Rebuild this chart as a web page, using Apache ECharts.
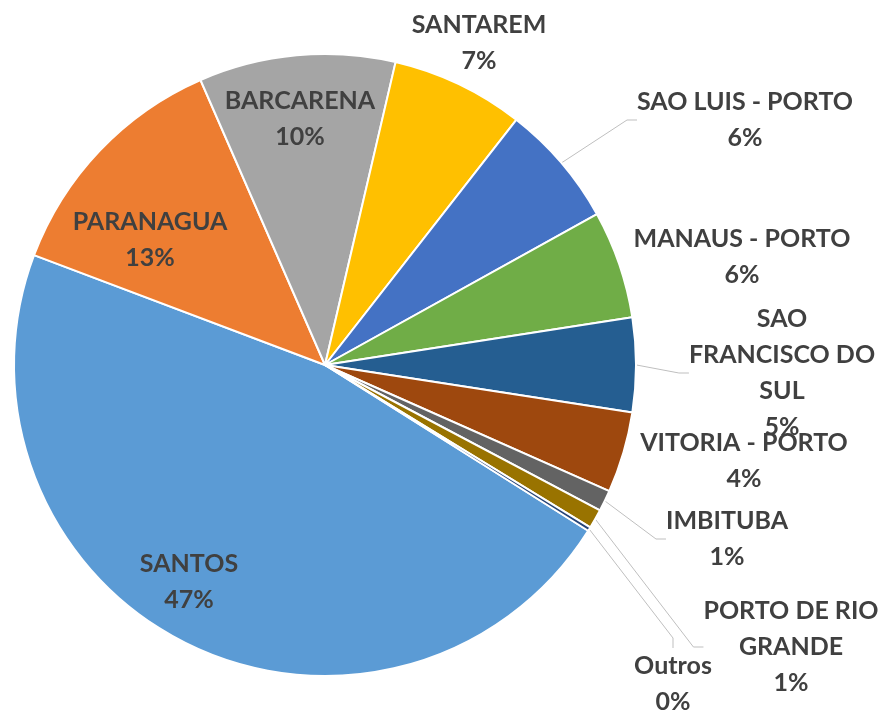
<!DOCTYPE html>
<html>
<head>
<meta charset="utf-8">
<script src="https://cdn.jsdelivr.net/npm/echarts@6/dist/echarts.min.js"></script>
<style>
  html, body { margin: 0; padding: 0; background: #fff; }
  #chart { width: 883px; height: 710px; }
</style>
</head>
<body>
<div id="chart"></div>
<script>
const portNames = ['SANTOS', 'PARANAGUA', 'BARCARENA', 'SANTAREM', 'SAO LUIS - PORTO', 'MANAUS - PORTO',
  'SAO FRANCISCO DO SUL', 'VITORIA - PORTO', 'IMBITUBA', 'PORTO DE RIO GRANDE', 'Outros']
const portShares = [46.8, 12.7, 10.2, 6.9, 6.4, 5.6, 4.9, 4.2, 1.1, 1.0, 0.2]
// names as Excel wrapped them
const labelText = ['SANTOS', 'PARANAGUA', 'BARCARENA', 'SANTAREM', 'SAO LUIS - PORTO', 'MANAUS - PORTO',
  'SAO\nFRANCISCO DO\nSUL', 'VITORIA - PORTO', 'IMBITUBA', 'PORTO DE RIO\nGRANDE', 'Outros']

const sliceColors = ['#5B9BD5', '#ED7D31', '#A5A5A5', '#FFC000', '#4472C4', '#70AD47',
  '#255E91', '#9E480E', '#636363', '#997300', '#264478']
// label centres (layout only)
const labelSpots = [[189, 582], [150, 240], [300, 119], [479, 43], [745, 120], [742, 257],
  [782, 373], [744, 461], [727, 539], [791, 647], [673, 684]]
const insideLabels = [0, 1, 2]
const noLine = [3, 5, 7]

const chart = echarts.init(document.getElementById('chart'))

chart.setOption({
  animation: false,
  series: [{
    type: 'pie',
    center: [325, 365],
    radius: 311,
    startAngle: 327.8,
    clockwise: true,
    avoidLabelOverlap: false,
    emphasis: { disabled: true },
    itemStyle: {
      borderColor: '#fff',
      borderWidth: 2
    },
    label: {
      show: true,
      position: 'outside',
      formatter: p => labelText[p.dataIndex] + '\n' + Math.round(p.percent) + '%',
      fontFamily: 'Lato',
      fontWeight: 'bold',
      fontSize: 25,
      lineHeight: 36,
      color: '#404040',
      align: 'center'
    },
    labelLine: {
      show: true,
      length: 20,
      length2: 10,
      lineStyle: { color: '#BFBFBF', width: 1 }
    },
    labelLayout: p => ({
      x: labelSpots[p.dataIndex][0],
      y: labelSpots[p.dataIndex][1],
      align: 'center',
      verticalAlign: 'middle'
    }),
    data: portNames.map((name, i) => ({
      name: name,
      value: portShares[i],
      itemStyle: { color: sliceColors[i] },
      label: insideLabels.includes(i) ? { position: 'inside' } : {},
      labelLine: { show: !(insideLabels.includes(i) || noLine.includes(i)) }
    }))
  }]
})
</script>
</body>
</html>
